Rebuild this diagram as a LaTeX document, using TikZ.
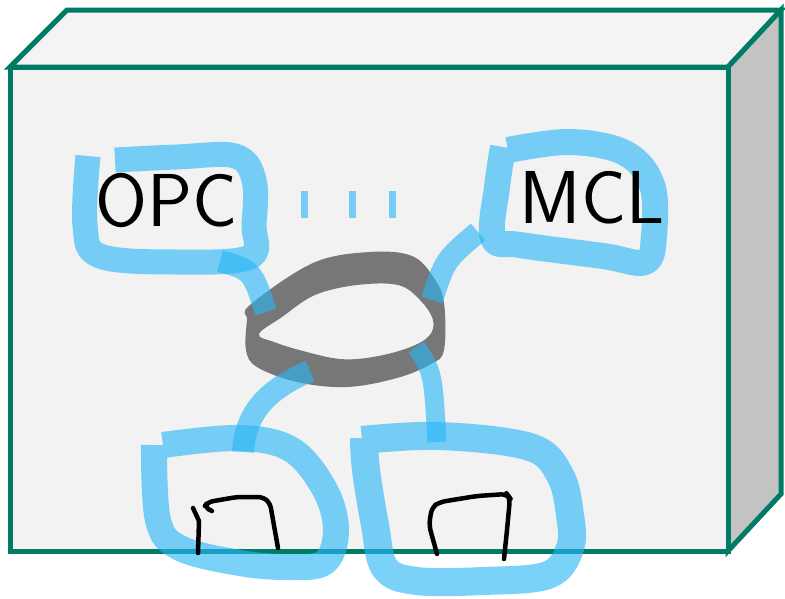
\documentclass[tikz,border=0pt]{standalone}
\usepackage{fontspec}
\usepackage{tikz}
\usetikzlibrary{positioning}
\definecolor{boxteal}{HTML}{007B66}
\definecolor{frontgray}{HTML}{F2F2F2}
\definecolor{topgray}{HTML}{F4F4F4}
\definecolor{sidegray}{HTML}{C3C3C3}
\definecolor{ringgray}{HTML}{777777}
\definecolor{markerblue}{HTML}{29B6F6}

\begin{document}
\begin{tikzpicture}[
  x=1pt, y=-1pt,
  boxface/.style={draw=boxteal, line width=5pt, line join=miter},
  scribble/.style={draw=markerblue, draw opacity=0.62, line width=25pt, line join=round},
  wire/.style={draw=markerblue, draw opacity=0.62, line width=22pt},
  dashmark/.style={draw=markerblue, draw opacity=0.62, line width=7pt},
  pen/.style={draw=black, line width=4.5pt, line cap=round, line join=round},
  hand/.style={font=\fontsize{75}{80}\selectfont\sffamily, inner sep=0pt},
]
  \useasboundingbox (0,0) rectangle (785,598);

  % Box
  \coordinate (fl) at (10,67);
  \coordinate (fr) at (728,67);
  \coordinate (br) at (728,551);
  \coordinate (bl) at (10,551);
  \draw[boxface, fill=topgray] (fl) -- ++(57,-57) -- (781,10) -- (fr) -- cycle;
  \draw[boxface, fill=sidegray] (fr) -- (781,10) -- (781,494) -- (br) -- cycle;
  \draw[boxface, fill=frontgray] (fl) rectangle (br);

  % Ring
  \fill[ringgray, even odd rule]
    plot[smooth cycle, tension=0.6] coordinates {(250,305) (313,263) (370,252) (412,256) (434,278) (444,303) (444,350) (431,364) (397,378) (347,387) (297,382) (257,367) (246,350) (247,320)}
    plot[smooth cycle, tension=0.6] coordinates {(259,334) (282,317) (315,295) (357,285) (398,285) (420,300) (433,320) (429,336) (408,348) (373,357) (340,359) (303,351) (274,342)};
  \coordinate (ring-nw) at (266,312);
  \coordinate (ring-ne) at (432,300);
  \coordinate (ring-sw) at (310,371);
  \coordinate (ring-se) at (416,347);

  % Loops
  \draw[scribble] plot[smooth, tension=0.6] coordinates {(115,160) (177,157) (235,156) (254,180) (254,225) (250,257) (177,262) (100,256) (85,225) (88,156)};
  \draw[scribble, line width=26pt] plot[smooth, tension=0.6] coordinates {(508,150) (570,142) (625,153) (652,185) (654,235) (645,262) (603,256) (520,245) (493,238) (497,187) (503,147)};
  \draw[scribble, line width=26pt] plot[smooth, tension=0.6] coordinates {(163,445) (240,438) (292,450) (325,490) (336,530) (325,562) (290,567) (240,563) (180,548) (158,520) (154,445)};
  \draw[scribble, line width=28pt] plot[smooth, tension=0.6] coordinates {(362,440) (440,436) (530,447) (560,475) (570,515) (570,548) (548,575) (483,581) (417,581) (385,568) (375,525) (366,470) (364,438)};
  \coordinate (opc-out) at (220,261);
  \coordinate (mcl-out) at (478,232);
  \coordinate (ll-in) at (243,452);
  \coordinate (lr-in) at (437,442);

  % Links
  \draw[wire] (opc-out) .. controls (252,270) .. (ring-nw);
  \draw[wire] (mcl-out) .. controls (445,260) .. (ring-ne);
  \draw[wire] (ring-sw) .. controls (265,390) and (245,415) .. (ll-in);
  \draw[wire, line width=19pt] (ring-se) .. controls (433,372) .. (lr-in);

  % Dots
  \foreach \x in {304.5, 352.5, 392.5}
    \draw[dashmark] (\x,191) -- (\x,218);

  % Writing
  \node[hand] (opc) at (167,200) {OPC};
  \node[hand] (mcl) at (592,198) {MCL};
  \draw[pen] (193,508) -- (199,521) -- (198,553);
  \draw[pen, rounded corners=5pt] (212,511) -- (204,507) -- (208,502) -- (237,497) -- (263,497) -- (270,503) -- (278,548);
  \draw[pen, rounded corners=6pt] (437,554) -- (429,525) -- (432,507) -- (440,502) -- (477,496) -- (507,494) -- (510,498) -- (507,530) -- (504,559);
\end{tikzpicture}
\end{document}
